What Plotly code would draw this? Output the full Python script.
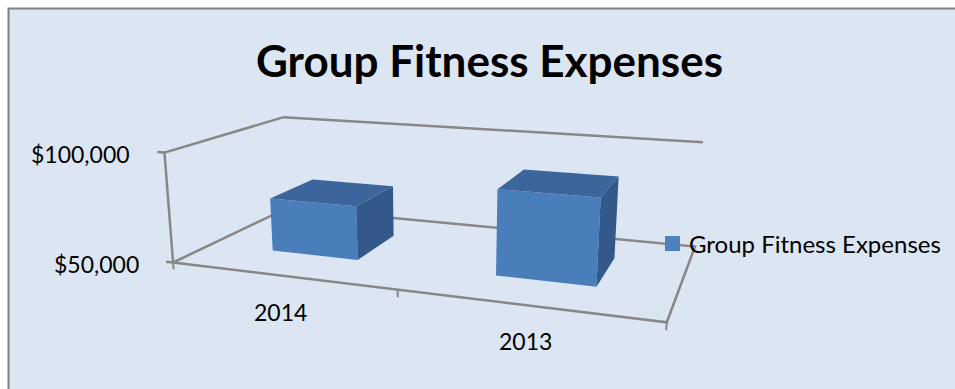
import numpy as np
import plotly.graph_objects as go

# ---------------- data ----------------
categories = ["2014", "2013"]
values = [75000, 88000]
series_name = "Group Fitness Expenses"
chart_title = "Group Fitness Expenses"
value_tick_vals = [50000, 100000]
value_tick_text = ["$50,000", "$100,000"]

# ---------------- style / layout ----------------
W, H = 955, 389
BG = "#dce6f2"
FRONT = "#4a7ebb"
TOP = "#3c659c"
SIDE = "#33598b"
LINE = "#878787"
FONT = "Lato"
GAP = 0.3          # gap on each side of a column (fraction of category)
DEPTH = (0.3, 0.7) # column depth span (fraction of floor depth)

# 3D plot-box placement: box corners (u along categories, v depth, w value) -> figure px
BOX_UVW = [(0, 0, 0), (1, 0, 0), (0, 1, 0), (1, 1, 0),
           (0, 0, 1), (0, 1, 1), (1, 1, 1), (0.5, 0, 0)]
BOX_PX = [(173, 263), (667, 322), (288, 208), (695, 246),
          (165, 152), (283, 117), (703, 143), (397, 290)]

# perspective camera fitted to the box placement (DLT)
cx, cy, sc = 480.0, 200.0, 300.0
A = []
for (X, Y, Z), (u, v) in zip(BOX_UVW, BOX_PX):
    un, vn = (u - cx) / sc, (v - cy) / sc
    A.append([X, Y, Z, 1, 0, 0, 0, 0, -un * X, -un * Y, -un * Z, -un])
    A.append([0, 0, 0, 0, X, Y, Z, 1, -vn * X, -vn * Y, -vn * Z, -vn])
P = np.linalg.svd(np.array(A))[2][-1].reshape(3, 4)

def proj(u, v, w):
    q = P @ np.array([u, v, w, 1.0])
    return cx + sc * q[0] / q[2], cy + sc * q[1] / q[2]

Z0, Z1 = value_tick_vals[0], value_tick_vals[-1]
def wval(val):
    return (val - Z0) / (Z1 - Z0)

ncat = len(categories)
fig = go.Figure()

def poly(pts, color, width=0, fill=None):
    xs, ys = zip(*[proj(*p) for p in pts])
    if fill:
        fig.add_trace(go.Scatter(x=list(xs) + [xs[0]], y=list(ys) + [ys[0]], mode="lines",
                                 fill="toself", fillcolor=fill, line=dict(width=0, color=fill),
                                 hoverinfo="skip", showlegend=False))
    else:
        fig.add_trace(go.Scatter(x=xs, y=ys, mode="lines", line=dict(color=color, width=width),
                                 hoverinfo="skip", showlegend=False))

# frame: floor, front-left edge, wall top edges
poly([(0, 0, 0), (1, 0, 0), (1, 1, 0), (0, 1, 0), (0, 0, 0)], LINE, 2.5)
poly([(0, 0, 0), (0, 0, 1), (0, 1, 1), (1, 1, 1)], LINE, 2.5)
for tv in value_tick_vals:
    poly([(0, 0, wval(tv)), (-0.017, 0, wval(tv))], LINE, 2.5)
for k in range(ncat + 1):
    poly([(k / ncat, 0, 0), (k / ncat, 0, -0.065)], LINE, 2)

# columns
v0, v1 = DEPTH
for i, val in enumerate(values):
    u0, u1 = (i + GAP) / ncat, (i + 1 - GAP) / ncat
    w = wval(val)
    poly([(u0, v0, 0), (u1, v0, 0), (u1, v0, w), (u0, v0, w)], None, fill=FRONT)
    poly([(u1, v0, 0), (u1, v1, 0), (u1, v1, w), (u1, v0, w)], None, fill=SIDE)
    poly([(u0, v0, w), (u1, v0, w), (u1, v1, w), (u0, v1, w)], None, fill=TOP)

ann = []
for tv, tt in zip(value_tick_vals, value_tick_text):
    x, y = proj(0, 0, wval(tv))
    ann.append(dict(x=x - 32, y=y + 1, text=tt, xanchor="right", yanchor="middle",
                    showarrow=False, font=dict(family=FONT, size=23, color="#000")))
for i, c in enumerate(categories):
    x, y = proj((i + 0.5) / ncat, 0, 0)
    ann.append(dict(x=x, y=y + 36, text=c, xanchor="center", yanchor="middle",
                    showarrow=False, font=dict(family=FONT, size=23, color="#000")))
ann.append(dict(x=489, y=60, text="<b>" + chart_title + "</b>", xanchor="center",
                yanchor="middle", showarrow=False, font=dict(family=FONT, size=44, color="#000")))
ann.append(dict(x=687, y=243, text=series_name, xanchor="left", yanchor="middle",
                showarrow=False, font=dict(family=FONT, size=24, color="#000")))

fig.update_layout(
    width=W, height=H, margin=dict(l=0, r=0, t=0, b=0),
    paper_bgcolor="white", plot_bgcolor="white", showlegend=False,
    xaxis=dict(range=[0, W], visible=False, fixedrange=True),
    yaxis=dict(range=[H, 0], visible=False, fixedrange=True),
    annotations=ann,
    shapes=[
        dict(type="rect", xref="x", yref="y", layer="below",
             x0=8.5, x1=W + 20, y0=8.5, y1=H + 20,
             fillcolor=BG, line=dict(color="#808080", width=2)),
        dict(type="rect", xref="x", yref="y", layer="above",
             x0=665, x1=680, y0=236, y1=251,
             fillcolor="#4f81bd", line=dict(width=0)),
    ],
)

fig.write_html("out.html", config={"displayModeBar": False, "staticPlot": True})
